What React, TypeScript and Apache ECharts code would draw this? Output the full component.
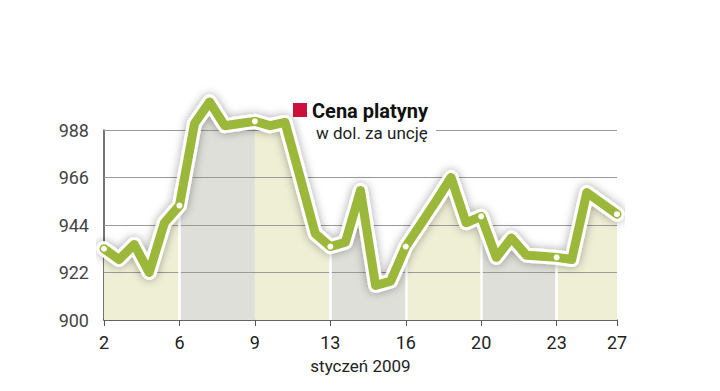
import React, { useEffect, useRef } from "react";
import * as echarts from "echarts";

const dayLabels = ["2", "6", "9", "13", "16", "20", "23", "27"];
const tickIndex = [0, 5, 10, 15, 20, 25, 30, 34];
const prices = [
  933, 928, 935, 922, 945, 953, 991, 1001, 990, 991, 992, 990, 991.5, 966, 940,
  934, 936, 960, 916, 918, 934, 944.5, 955, 966, 945, 948, 929, 938, 930, 929.5,
  929, 928, 959, 954, 949,
];
const yTicks = [900, 922, 944, 966, 988];
const bandColors = ["#efefd6", "#dfdfda"];
const axisTitle = "styczeń 2009";
const legendTitle = "Cena platyny";
const legendSub = "w dol. za uncję";

const FONT = "Roboto, 'Liberation Sans', sans-serif";

export default function App() {
  const ref = useRef<HTMLDivElement>(null);
  useEffect(() => {
    if (!ref.current) return;
    const chart = echarts.init(ref.current, null, { renderer: "svg" });
    const categories = prices.map((_, i) => String(i));
    const isTick = (i: number) => tickIndex.includes(i);

    const bandSeries = tickIndex.slice(0, -1).map((start, b) => {
      const end = tickIndex[b + 1];
      return {
        type: "line",
        data: prices.map((v, i) => (i >= start && i <= end ? v : "-")),
        symbol: "none",
        lineStyle: { width: 0, opacity: 0 },
        areaStyle: { color: bandColors[b % 2], opacity: 1, origin: "start" },
        z: 1,
        clip: false,
        silent: true,
      };
    });

    const gridData: any[] = yTicks.slice(1, -1).map((v) => ({ yAxis: v }));
    const top = yTicks[yTicks.length - 1];
    gridData.push([{ coord: ["0", top] }, { coord: ["12", top] }]);
    gridData.push([{ coord: ["22", top] }, { coord: [String(prices.length - 1), top] }]);

    const sepData = tickIndex.slice(1, -1).map((i) => [
      { coord: [String(i), yTicks[0]] },
      { coord: [String(i), prices[i]] },
    ]);

    chart.setOption({
      animation: false,
      backgroundColor: "#ffffff",
      grid: { left: 104, right: 103, top: 130, bottom: 71, containLabel: false },
      xAxis: {
        type: "category",
        data: categories,
        boundaryGap: false,
        name: axisTitle,
        nameLocation: "middle",
        nameGap: 37,
        nameTextStyle: { fontFamily: FONT, fontSize: 17, color: "#222" },
        axisLine: { show: true, lineStyle: { color: "#333", width: 1.5 } },
        axisTick: {
          show: true,
          interval: (i: number) => isTick(i),
          length: 6,
          lineStyle: { color: "#555", width: 1 },
        },
        axisLabel: {
          interval: (i: number) => isTick(i),
          formatter: (_v: string, i: number) => dayLabels[tickIndex.indexOf(i)] ?? "",
          fontFamily: FONT,
          fontSize: 18,
          color: "#222",
          margin: 13,
        },
        splitLine: { show: false },
      },
      yAxis: {
        type: "value",
        min: yTicks[0],
        max: top,
        interval: 22,
        axisLine: { show: true, lineStyle: { color: "#444", width: 1.5 } },
        axisTick: { show: false },
        splitLine: { show: false },
        axisLabel: {
          fontFamily: FONT,
          fontSize: 18,
          color: "#444",
          margin: 15,
        },
      },
      series: [
        ...bandSeries,
        {
          type: "line",
          data: prices.map(() => "-"),
          symbol: "none",
          z: 3,
          silent: true,
          markLine: {
            silent: true,
            symbol: ["none", "none"],
            label: { show: false },
            lineStyle: { color: "#9a9a9a", width: 1, type: "solid" },
            data: gridData,
            z: 5,
          },
        },
        {
          type: "line",
          data: prices.map(() => "-"),
          symbol: "none",
          z: 3,
          silent: true,
          markLine: {
            silent: true,
            symbol: ["none", "none"],
            label: { show: false },
            lineStyle: { color: "#ffffff", width: 2.5, type: "solid" },
            data: sepData,
            z: 6,
          },
        },
        {
          type: "line",
          data: prices,
          symbol: "none",
          clip: false,
          z: 10,
          silent: true,
          lineStyle: {
            color: "#ffffff",
            width: 15,
            cap: "round",
            join: "round",
            shadowColor: "rgba(0,0,0,0.35)",
            shadowBlur: 10,
          },
        },
        {
          type: "line",
          data: prices,
          clip: false,
          z: 11,
          silent: true,
          showSymbol: true,
          showAllSymbol: true,
          symbol: "circle",
          symbolSize: (_v: any, p: any) => (isTick(p.dataIndex) ? 6 : 0),
          itemStyle: { color: "#ffffff", borderWidth: 0 },
          lineStyle: { color: "#9bb83b", width: 9, cap: "round", join: "round" },
        },
      ],
      graphic: [
        {
          type: "rect",
          shape: { x: 293, y: 103, width: 14, height: 14 },
          style: { fill: "#cc0f3c" },
          z: 20,
        },
        {
          type: "text",
          x: 312,
          y: 111,
          style: {
            text: legendTitle,
            fontFamily: FONT,
            fontSize: 20,
            fontWeight: "bold",
            fill: "#111",
            verticalAlign: "middle",
          },
          z: 20,
        },
        {
          type: "text",
          x: 316,
          y: 133,
          style: {
            text: legendSub,
            fontFamily: FONT,
            fontSize: 17,
            fill: "#222",
            verticalAlign: "middle",
          },
          z: 20,
        },
      ],
    });
    return () => chart.dispose();
  }, []);
  return (
    <div
      ref={ref}
      style={{ position: "fixed", left: 0, top: 0, width: 720, height: 391 }}
    />
  );
}
